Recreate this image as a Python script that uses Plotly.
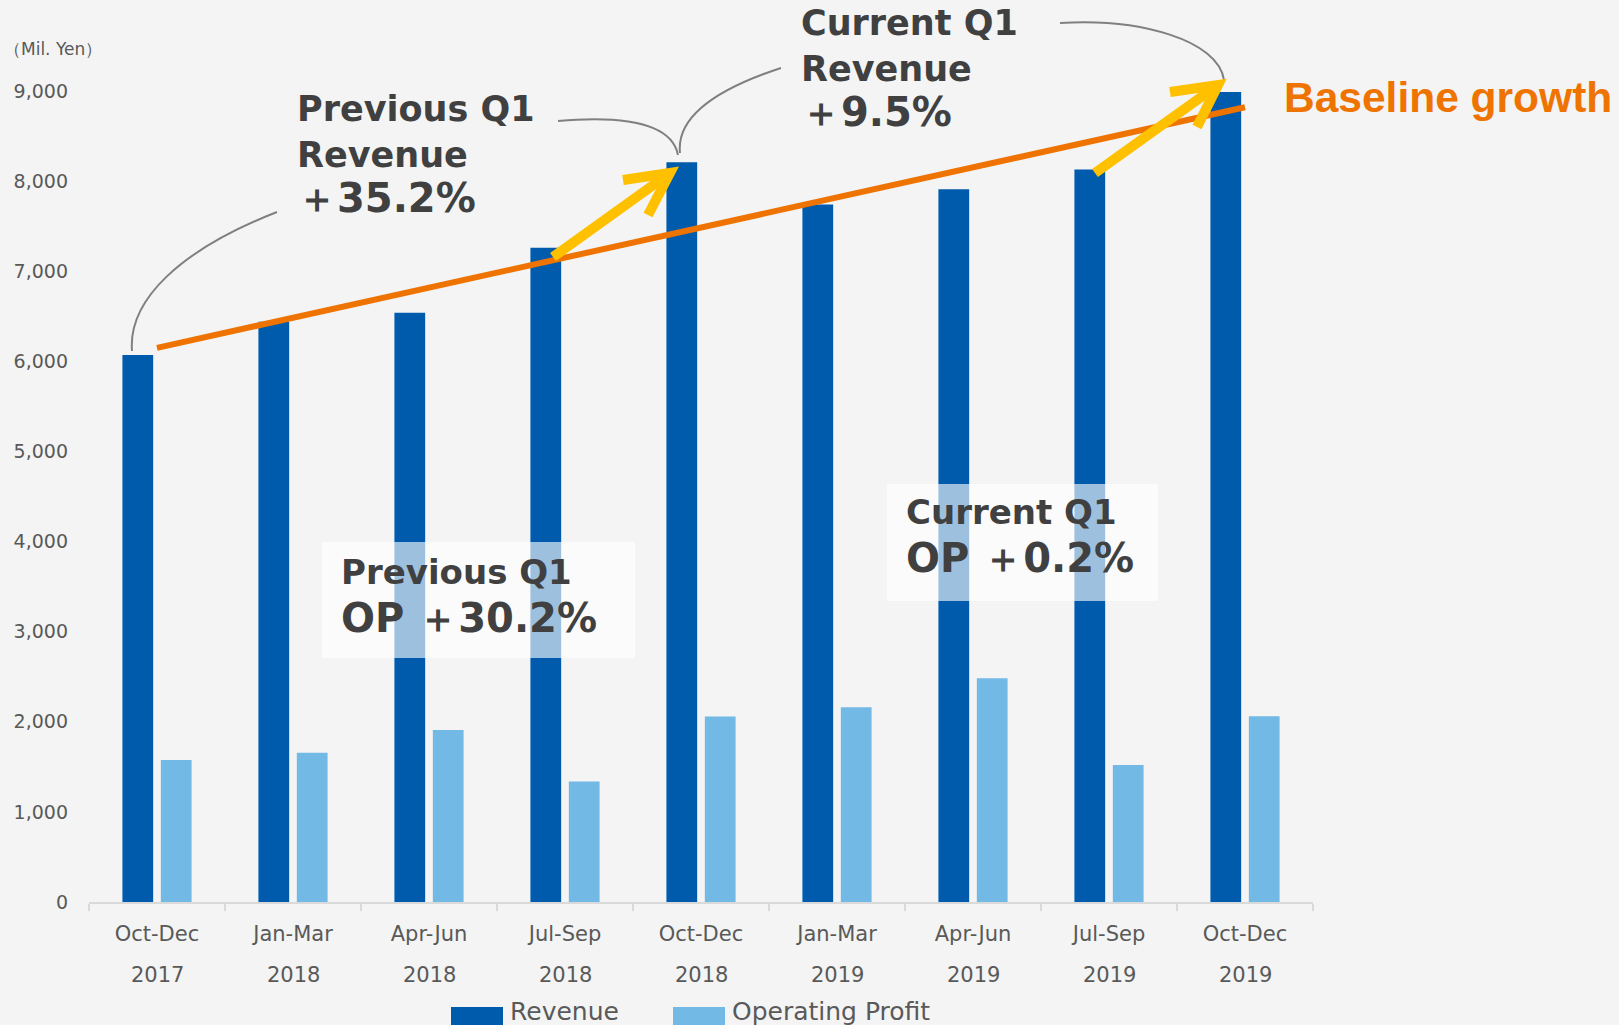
import plotly.graph_objects as go

# ---------------- data ----------------
months = ["Oct-Dec", "Jan-Mar", "Apr-Jun", "Jul-Sep", "Oct-Dec",
          "Jan-Mar", "Apr-Jun", "Jul-Sep", "Oct-Dec"]
years = ["2017", "2018", "2018", "2018", "2018", "2019", "2019", "2019", "2019"]
revenue = [6070, 6440, 6540, 7260, 8210, 7740, 7910, 8130, 8990]
operating_profit = [1577, 1657, 1909, 1336, 2058, 2161, 2482, 1520, 2062]
baseline_growth = [6150, 8820]          # start / end of the trend line
series_names = ["Revenue", "Operating Profit"]
y_ticks = [0, 1000, 2000, 3000, 4000, 5000, 6000, 7000, 8000, 9000]

categories = [f"{m} {y}" for m, y in zip(months, years)]

# ---------------- style ----------------
BG = "#F3F4F3"
C_REV = "#005BAC"
C_OP = "#72B9E6"
C_ORANGE = "#EF7300"
C_YELLOW = "#FFC000"
C_TEXT = "#404040"
C_AXIS = "#595959"
FONT = "DejaVu Sans"

W, H = 1619, 1025
L, R, T, B = 89, 306, 91, 123
PW, PH = W - L - R, H - T - B


def pp(X, Y):
    """pixel -> paper coordinates"""
    return (X - L) / PW, (H - B - Y) / PH


def path(points, cmd):
    out = []
    for c, pts in zip(cmd, points):
        s = " ".join(f"{pp(x, y)[0]:.5f},{pp(x, y)[1]:.5f}" for x, y in pts)
        out.append(f"{c} {s}")
    return " ".join(out)


fig = go.Figure()
fig.add_trace(go.Bar(x=categories, y=revenue, name=series_names[0],
                     marker=dict(color=C_REV, line=dict(width=0)), showlegend=False))
fig.add_trace(go.Bar(x=categories, y=operating_profit, name=series_names[1],
                     marker=dict(color=C_OP, line=dict(width=0)), showlegend=False))
fig.add_trace(go.Scatter(x=[categories[0], categories[-1]], y=baseline_growth,
                         mode="lines", line=dict(color=C_ORANGE, width=6),
                         showlegend=False, hoverinfo="skip"))

shapes = []
# gray connector curves
gray = dict(color="#808080", width=2)
curves = [
    [(132, 351), (128, 300), (180, 250), (277, 212)],
    [(678, 155), (672, 125), (630, 115), (558, 121)],
    [(680, 153), (676, 115), (720, 88), (781, 68)],
    [(1224, 80), (1218, 40), (1140, 18), (1060, 23)],
]
for c in curves:
    shapes.append(dict(type="path", xref="paper", yref="paper", layer="above",
                       path=path([[c[0]], c[1:]], ["M", "C"]), line=gray))

# yellow arrows
arrows = [
    dict(start=(553, 257), tip=(670, 173), a1=(623, 180), a2=(648, 215)),
    dict(start=(1095, 173), tip=(1218, 85), a1=(1170, 92), a2=(1197, 127)),
]
for a in arrows:
    shapes.append(dict(type="path", xref="paper", yref="paper", layer="above",
                       path=path([[a["start"]], [a["tip"]]], ["M", "L"]),
                       line=dict(color=C_YELLOW, width=10)))
    shapes.append(dict(type="path", xref="paper", yref="paper", layer="above",
                       path=path([[a["a1"]], [a["tip"]], [a["a2"]]], ["M", "L", "L"]),
                       line=dict(color=C_YELLOW, width=10)))

# translucent boxes behind OP annotations
for (x0, y0, x1, y1) in [(322, 542, 635, 658), (887, 484, 1158, 601)]:
    px0, py0 = pp(x0, y1)
    px1, py1 = pp(x1, y0)
    shapes.append(dict(type="rect", xref="paper", yref="paper", layer="above",
                       x0=px0, y0=py0, x1=px1, y1=py1,
                       fillcolor="rgba(255,255,255,0.62)", line=dict(width=0)))

# legend swatches
legend_items = [(451, 503, 508), (673, 725, 730)]
for (sx0, sx1, _), col in zip(legend_items, [C_REV, C_OP]):
    px0, py0 = pp(sx0, 1026)
    px1, py1 = pp(sx1, 1007)
    shapes.append(dict(type="rect", xref="paper", yref="paper", layer="above",
                       x0=px0, y0=py0, x1=px1, y1=py1,
                       fillcolor=col, line=dict(width=0)))

annotations = []


def ann(text, X, Y, size, color=C_TEXT, family=FONT, xanchor="left",
        yanchor="top", align="left"):
    x, y = pp(X, Y)
    annotations.append(dict(text=text, x=x, y=y, xref="paper", yref="paper",
                            xanchor=xanchor, yanchor=yanchor, align=align,
                            showarrow=False,
                            font=dict(family=family, size=size, color=color)))


ann("<b>Previous Q1<br>Revenue<br><span style='font-size:40px'>＋35.2%</span></b>",
    295, 87, 35)
ann("<b>Current Q1<br>Revenue<br><span style='font-size:40px'>＋9.5%</span></b>",
    799, 1, 35)
ann("<b>Baseline growth</b>", 1282, 72, 42.5, color=C_ORANGE,
    family="Liberation Sans")
ann("<b><span style='font-size:34px'>Previous Q1</span><br>"
    "<span style='font-size:40px'>OP ＋30.2%</span></b>", 339, 550, 37)
ann("<b><span style='font-size:34px'>Current Q1</span><br>"
    "<span style='font-size:40px'>OP ＋0.2%</span></b>", 904, 490, 37)
ann("（Mil. Yen）", 2, 49, 17, color=C_AXIS, yanchor="middle")

# legend texts
for (_, _, tx), name in zip(legend_items, series_names):
    ann(name, tx, 1012, 25, color=C_AXIS, yanchor="middle")

# year labels under the months
for cat, yr in zip(categories, years):
    annotations.append(dict(text=yr, x=cat, xref="x", y=pp(0, 975)[1], yref="paper",
                            xanchor="center", yanchor="middle", showarrow=False,
                            font=dict(family=FONT, size=21, color=C_AXIS)))

fig.update_layout(
    width=W, height=H,
    margin=dict(l=L, r=R, t=T, b=B, autoexpand=False),
    paper_bgcolor=BG, plot_bgcolor=BG,
    barmode="group", bargap=0.435, bargroupgap=0.2,
    showlegend=False,
    shapes=shapes, annotations=annotations,
    font=dict(family=FONT, color=C_AXIS),
    xaxis=dict(type="category", tickvals=categories, ticktext=months,
               showline=True, linecolor="#D9D9D9", linewidth=2,
               ticks="outside", tickson="boundaries", ticklen=7,
               tickcolor="#D9D9D9", tickwidth=2, ticklabelstandoff=12,
               tickfont=dict(family=FONT, size=21, color=C_AXIS),
               showgrid=False, zeroline=False, fixedrange=True),
    yaxis=dict(range=[0, 9000], tickvals=y_ticks, tickformat=",",
               showgrid=False, zeroline=False, showline=False, ticks="",
               ticklabelstandoff=20,
               tickfont=dict(family=FONT, size=19, color=C_AXIS),
               fixedrange=True),
)

fig.write_html("out.html",
               config={"displayModeBar": False},
               post_script="document.body.style.margin='0px';"
                           "document.body.style.background='" + BG + "';")
